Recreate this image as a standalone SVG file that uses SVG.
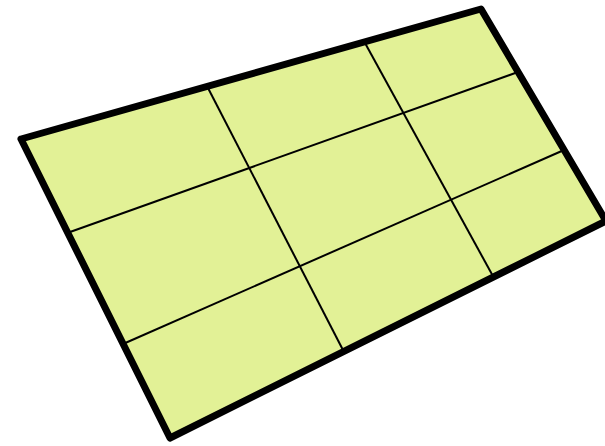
<svg xmlns="http://www.w3.org/2000/svg" width="605" height="446" viewBox="0 0 605 446">
<style>
.plate{fill:#e2f196;stroke:#000;stroke-width:7;stroke-linejoin:round}
.grid{stroke:#000;stroke-width:2;fill:none}
</style>
<g id="plate">
<polygon class="plate" points="21,139 481,9 606,221 170,438"/>
</g>
<g id="connectors">
<line class="grid" x1="208" y1="88" x2="344" y2="352"/>
<line class="grid" x1="365" y1="43" x2="494" y2="278"/>
<line class="grid" x1="70" y1="232" x2="518" y2="72"/>
<line class="grid" x1="123" y1="344" x2="564" y2="150"/>
</g>
</svg>
